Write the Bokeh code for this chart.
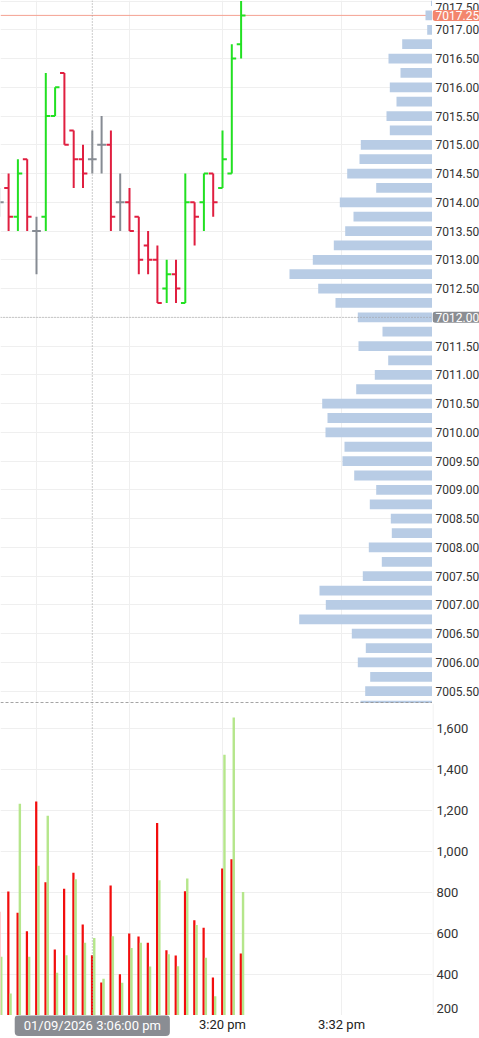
from bokeh.plotting import figure
from bokeh.models import Range1d, FixedTicker, Span, Label, ColumnDataSource
from bokeh.core.properties import value
from bokeh.layouts import column, row
from bokeh.embed import file_html
from bokeh.resources import INLINE

# ---------------- data ----------------
minutes = list(range(-4, 23))          # minutes after 3:00 pm
opens = [7014.00, 7014.25, 7013.75, 7014.75, 7013.50, 7013.75, 7015.50, 7016.25, 7015.25,
         7014.75, 7014.75, 7015.00, 7015.00, 7014.00, 7014.00, 7013.75, 7013.25, 7013.00,
         7012.50, 7012.75, 7012.25, 7014.00, 7014.00, 7014.50, 7014.25, 7014.50, 7016.75]
highs = [7014.25, 7014.50, 7014.75, 7014.75, 7013.75, 7016.25, 7016.00, 7016.25, 7015.25,
         7015.00, 7015.25, 7015.50, 7015.25, 7014.50, 7014.25, 7013.75, 7013.50, 7013.25,
         7013.00, 7013.00, 7014.50, 7014.00, 7014.50, 7014.50, 7015.25, 7016.75, 7017.50]
lows = [7013.75, 7013.50, 7013.50, 7013.50, 7012.75, 7013.50, 7015.50, 7015.00, 7014.25,
        7014.25, 7014.50, 7014.50, 7013.50, 7013.50, 7013.50, 7012.75, 7012.75, 7012.25,
        7012.25, 7012.25, 7012.25, 7013.25, 7013.50, 7013.75, 7014.25, 7014.50, 7016.50]
closes = [7014.00, 7013.75, 7014.50, 7013.75, 7013.50, 7015.50, 7016.00, 7015.00, 7014.75,
          7014.50, 7014.75, 7015.00, 7013.75, 7014.00, 7013.50, 7013.00, 7013.00, 7012.25,
          7012.75, 7012.50, 7014.00, 7013.75, 7014.50, 7014.00, 7014.75, 7016.50, 7017.25]

sell_vol = [705, 804, 700, 611, 1243, 849, 521, 818, 896, 643, 494, 361, 833, 401, 599, 585,
            555, 1138, 518, 492, 805, 664, 628, 385, 916, 961, 502]
buy_vol = [486, 307, 1232, 486, 930, 1173, 408, 494, 864, 555, 577, 379, 586, 359, 529, 554,
           439, 859, 499, 440, 867, 641, 481, 294, 1470, 1652, 802]

profile_prices = [7017.50, 7017.25, 7017.00, 7016.75, 7016.50, 7016.25, 7016.00, 7015.75,
                  7015.50, 7015.25, 7015.00, 7014.75, 7014.50, 7014.25, 7014.00, 7013.75,
                  7013.50, 7013.25, 7013.00, 7012.75, 7012.50, 7012.25, 7012.00, 7011.75,
                  7011.50, 7011.25, 7011.00, 7010.75, 7010.50, 7010.25, 7010.00, 7009.75,
                  7009.50, 7009.25, 7009.00, 7008.75, 7008.50, 7008.25, 7008.00, 7007.75,
                  7007.50, 7007.25, 7007.00, 7006.75, 7006.50, 7006.25, 7006.00, 7005.75,
                  7005.50, 7005.25]
profile_volume = [15, 70, 53, 303, 440, 320, 427, 360, 460, 427, 717, 730, 853, 563, 927, 790,
                  873, 987, 1197, 1430, 1143, 970, 747, 500, 740, 443, 577, 763, 1103, 1050,
                  1070, 880, 900, 783, 563, 627, 417, 407, 637, 507, 697, 1130, 1067, 1333,
                  807, 667, 747, 623, 673, 720]

price_ticks = [7005.5, 7006.0, 7006.5, 7007.0, 7007.5, 7008.0, 7008.5, 7009.0, 7009.5,
               7010.0, 7010.5, 7011.0, 7011.5, 7012.0, 7012.5, 7013.0, 7013.5, 7014.0,
               7014.5, 7015.0, 7015.5, 7016.0, 7016.5, 7017.0, 7017.5]
volume_ticks = [200, 400, 600, 800, 1000, 1200, 1400, 1600]
time_grid = [0, 10, 20, 32.8]
time_label_pos = [20, 32.8]
time_labels = ["3:20 pm", "3:32 pm"]

last_price = 7017.25
cross_price = 7012.00
cross_minute = 6
cross_text = "01/09/2026 3:06:00 pm"

# ---------------- styling ----------------
FONT = "Roboto"
W = 479
FW = 432          # plot-frame width
AXW = W - FW      # right label column
TOP_H = 703
VOL_H = 312
STRIP_H = 23
UP, DOWN, FLAT = "#22e022", "#e01f40", "#868b93"
GRID = "#efefef"
LABEL_COLOR = "#333333"
TICK_HALF = 0.47

colors = [UP if c > o else (DOWN if c < o else FLAT) for o, c in zip(opens, closes)]
src = ColumnDataSource(dict(
    m=minutes, o=opens, h=highs, l=lows, c=closes, col=colors,
    ml=[m - TICK_HALF for m in minutes], mr=[m + TICK_HALF for m in minutes]))

xr = Range1d(-3.871, 42.58)
price_range = Range1d(7005.286, 7017.509)
vol_range = Range1d(200, 1720)


def base_fig(**kw):
    f = figure(output_backend="svg", toolbar_location=None, x_axis_location=None,
               y_axis_location=None, min_border=0, **kw)
    f.outline_line_color = None
    f.background_fill_color = "white"
    f.border_fill_color = "white"
    return f


def edge_shift(ticks, rng, px=7):
    # keep labels that sit on a panel edge fully inside the panel
    out = []
    for t in ticks:
        if abs(t - rng.end) < (rng.end - rng.start) * 0.01:
            out.append(px)
        elif abs(t - rng.start) < (rng.end - rng.start) * 0.01:
            out.append(-px)
        else:
            out.append(0)
    return out


# ---------------- price panel ----------------
top = base_fig(width=FW, height=TOP_H, x_range=xr, y_range=price_range)
top.xgrid.ticker = FixedTicker(ticks=time_grid)
top.ygrid.ticker = FixedTicker(ticks=price_ticks)
top.grid.grid_line_color = GRID

top.add_layout(Span(location=last_price, dimension="width", line_color="#f4a292",
                    line_width=1, level="underlay"))

# volume profile on its own horizontal scale, anchored at the right edge
top.extra_x_ranges = {"vp": Range1d(start=4320, end=0)}
top.hbar(y=profile_prices, left=profile_volume, right=0, height=0.17, x_range_name="vp",
         fill_color="#b8cce5", line_color=None)

# OHLC bars
top.segment(x0="m", y0="l", x1="m", y1="h", color="col", line_width=2, source=src)
top.segment(x0="ml", y0="o", x1="m", y1="o", color="col", line_width=2, source=src)
top.segment(x0="m", y0="c", x1="mr", y1="c", color="col", line_width=2, source=src)

top.add_layout(Span(location=cross_price, dimension="width", line_color="#9a9a9a",
                    line_dash="1 2", line_width=1))
top.add_layout(Span(location=cross_minute, dimension="height", line_color="#9a9a9a",
                    line_dash="1 2", line_width=1))
top.add_layout(Span(location=7005.30, dimension="width", line_color="#8f8f8f",
                    line_dash="3 2", line_width=1))

# price label column
pax = base_fig(width=AXW, height=TOP_H, x_range=Range1d(0, AXW), y_range=price_range)
pax.grid.visible = False
shown_ticks = [t for t in price_ticks if t != cross_price]
psrc = ColumnDataSource(dict(x=[3] * len(shown_ticks), y=shown_ticks,
                             t=[f"{t:.2f}" for t in shown_ticks],
                             dy=edge_shift(shown_ticks, price_range, 6)))
pax.text(x="x", y="y", text="t", y_offset="dy", source=psrc,
         text_font=value(FONT), text_font_size="12px", text_color=LABEL_COLOR,
         text_baseline="middle", text_align="left")
pax.add_layout(Label(x=0, y=last_price, text=f"{last_price:.2f}", text_font=FONT,
                     text_font_size="12px", text_color="white", text_baseline="middle",
                     text_align="left", background_fill_color="#f3866e",
                     padding=(3, 1), border_radius=3))
pax.add_layout(Label(x=0, y=cross_price, text=f"{cross_price:.2f}", text_font=FONT,
                     text_font_size="12px", text_color="white", text_baseline="middle",
                     text_align="left", background_fill_color="#8a8d92",
                     padding=(3, 1), border_radius=3))

# ---------------- volume panel ----------------
vol = base_fig(width=FW, height=VOL_H, x_range=xr, y_range=vol_range)
vol.ygrid.ticker = FixedTicker(ticks=volume_ticks)
vol.xgrid.ticker = FixedTicker(ticks=time_grid)
vol.grid.grid_line_color = GRID

vol.vbar(x=[m - 0.03 for m in minutes], width=0.24, top=sell_vol, bottom=0,
         fill_color="#f20d0d", line_color=None)
vol.vbar(x=[m + 0.21 for m in minutes], width=0.26, top=buy_vol, bottom=0,
         fill_color="#b5e68b", line_color=None)

vol.add_layout(Span(location=cross_minute, dimension="height", line_color="#9a9a9a",
                    line_dash="1 2", line_width=1))

# volume label column
vax = base_fig(width=AXW, height=VOL_H, x_range=Range1d(0, AXW), y_range=vol_range)
vax.grid.visible = False
vax.add_layout(Span(location=0.5, dimension="height", line_color="#eeeeee", line_width=1))
vsrc = ColumnDataSource(dict(x=[4] * len(volume_ticks), y=volume_ticks,
                             t=[f"{v:,}" for v in volume_ticks],
                             dy=edge_shift(volume_ticks, vol_range, 7)))
vax.text(x="x", y="y", text="t", y_offset="dy", source=vsrc,
         text_font=value(FONT), text_font_size="13px", text_color=LABEL_COLOR,
         text_baseline="middle", text_align="left")

# ---------------- time-label strip ----------------
strip = base_fig(width=W, height=STRIP_H, x_range=xr, y_range=Range1d(0, 1),
                 min_border_right=AXW)
strip.grid.visible = False
strip.text(x=time_label_pos, y=[0.63] * len(time_label_pos), text=time_labels,
           text_font=value(FONT), text_font_size="13px", text_color="#222222",
           text_align="center", text_baseline="middle")
strip.add_layout(Label(x=cross_minute, y=0.565, text=cross_text, text_font=FONT,
                       text_font_size="13px", text_color="white", text_align="center",
                       text_baseline="middle", background_fill_color="#8a8d93",
                       padding=(9, 3), border_radius=4))

layout = column(row(top, pax, spacing=0), row(vol, vax, spacing=0), strip, spacing=0)
open("out.html", "w").write(file_html(layout, INLINE))
